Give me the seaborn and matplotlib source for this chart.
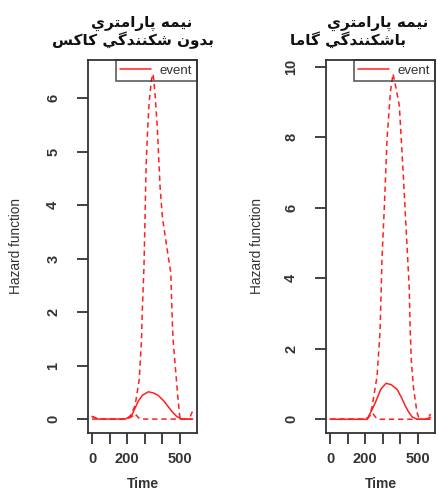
import matplotlib
matplotlib.use('Agg')
import matplotlib.pyplot as plt
import seaborn as sns


# hazard estimates (time, value)
left_time = [0, 35, 100, 190, 227, 265, 290, 322, 350, 379, 410, 436, 460, 484, 512, 575]
left_hazard = [0.05, 0, 0, 0, 0.07, 0.34, 0.45, 0.51, 0.49, 0.44, 0.34, 0.23, 0.13, 0.05, 0, 0]

left_up_time = [0, 35, 100, 200, 217, 246, 270, 283, 287, 297, 309, 316, 326, 340, 349,
                360, 373, 389, 402, 427, 450, 459, 463, 474, 490, 503, 555, 575]
left_up = [0.05, 0, 0, 0, 0.05, 0.25, 0.74, 1.5, 2.0, 2.85, 4.71, 5.27, 5.9, 6.35, 6.45,
           6.09, 5.46, 4.34, 3.78, 3.22, 2.74, 1.81, 1.5, 1.06, 0.43, 0, 0, 0.15]

left_low_time = [0, 200, 230, 245, 262, 275, 500, 575]
left_low = [0, 0, 0.05, 0.1, 0.04, 0, 0, 0]

right_time = [0, 190, 213, 221, 259, 290, 320, 350, 383, 410, 430, 450, 469, 497, 540, 575]
right_hazard = [0, 0, 0, 0.08, 0.47, 0.85, 1.02, 0.98, 0.85, 0.6, 0.38, 0.2, 0.07, 0, 0, 0.05]

right_up_time = [0, 200, 221, 240, 269, 286, 297, 310, 326, 345, 360, 377, 396, 406, 421,
                 453, 458, 465, 478, 497, 510, 555, 575]
right_up = [0, 0, 0.05, 0.34, 1.23, 2.5, 4.55, 5.97, 7.95, 9.28, 9.8, 9.4, 8.9, 8.05, 6.73,
            3.69, 2.56, 1.62, 0.85, 0.2, 0, 0, 0.15]

right_low_time = [0, 200, 225, 242, 262, 275, 500, 575]
right_low = [0, 0, 0.08, 0.18, 0.05, 0, 0, 0]

left_title = ['نیمه پارامتري', 'بدون شکنندگي کاکس']
right_title = ['نیمه پارامتري', 'باشکنندگي گاما']
left_yticks = [0, 1, 2, 3, 4, 5, 6]
right_yticks = [0, 2, 4, 6, 8, 10]
time_ticks = [0, 100, 200, 300, 400, 500]
time_labels = ['0', '', '200', '', '', '500']

# matplotlib has no arabic shaping, so pick the presentation forms by hand
FORMS = {
    'ا': ('\uFE8D', '\uFE8E', None, None),
    'ب': ('\uFE8F', '\uFE90', '\uFE91', '\uFE92'),
    'پ': ('\uFB56', '\uFB57', '\uFB58', '\uFB59'),
    'ت': ('\uFE95', '\uFE96', '\uFE97', '\uFE98'),
    'د': ('\uFEA9', '\uFEAA', None, None),
    'ر': ('\uFEAD', '\uFEAE', None, None),
    'س': ('\uFEB1', '\uFEB2', '\uFEB3', '\uFEB4'),
    'ش': ('\uFEB5', '\uFEB6', '\uFEB7', '\uFEB8'),
    'ک': ('\uFB8E', '\uFB8F', '\uFB90', '\uFB91'),
    'گ': ('\uFB92', '\uFB93', '\uFB94', '\uFB95'),
    'م': ('\uFEE1', '\uFEE2', '\uFEE3', '\uFEE4'),
    'ن': ('\uFEE5', '\uFEE6', '\uFEE7', '\uFEE8'),
    'ه': ('\uFEE9', '\uFEEA', '\uFEEB', '\uFEEC'),
    'و': ('\uFEED', '\uFEEE', None, None),
    'ي': ('\uFEF1', '\uFEF2', '\uFEF3', '\uFEF4'),
    'ی': ('\uFBFC', '\uFBFD', '\uFBFE', '\uFBFF'),
}


def shape(text):
    out = []
    for i, ch in enumerate(text):
        if ch not in FORMS:
            out.append(ch)
            continue
        prev = text[i - 1] if i > 0 else ''
        nxt = text[i + 1] if i + 1 < len(text) else ''
        iso, fin, ini, med = FORMS[ch]
        join_prev = prev in FORMS and FORMS[prev][2] is not None
        join_next = ini is not None and nxt in FORMS
        if join_prev and join_next:
            out.append(med)
        elif join_prev:
            out.append(fin)
        elif join_next:
            out.append(ini)
        else:
            out.append(iso)
    return ''.join(reversed(out))


sns.set_theme(style='ticks')
plt.rcParams['font.family'] = ['Liberation Sans', 'DejaVu Sans']

RED = '#ff2020'
GREY = '#333333'

fig = plt.figure(figsize=(4.38, 4.93), dpi=100)
ax1 = fig.add_axes([88 / 438, 60 / 493, 109 / 438, 373 / 493])
ax2 = fig.add_axes([326 / 438, 60 / 493, 109 / 438, 373 / 493])

panels = [
    (ax1, left_time, left_hazard, left_up_time, left_up, left_low_time, left_low,
     left_yticks, (-0.26, 6.71), -0.656),
    (ax2, right_time, right_hazard, right_up_time, right_up, right_low_time, right_low,
     right_yticks, (-0.39, 10.19), -0.633),
]

for ax, t, h, tu, up, tl, low, yt, ylim, ylab_x in panels:
    sns.lineplot(x=t, y=h, ax=ax, color=RED, lw=1.1, label='event')
    sns.lineplot(x=tu, y=up, ax=ax, color=RED, lw=1.1, linestyle=(0, (3.5, 2.5)))
    sns.lineplot(x=tl, y=low, ax=ax, color=RED, lw=1.1, linestyle=(0, (3.5, 2.5)))
    ax.set_xlim(-23, 600)
    ax.set_ylim(*ylim)
    ax.set_xticks(time_ticks)
    ax.set_xticklabels(time_labels)
    ax.set_yticks(yt)
    ax.set_yticklabels([str(v) for v in yt])
    for s in ax.spines.values():
        s.set_visible(True)
        s.set_color(GREY)
        s.set_linewidth(1.3)
    ax.tick_params(axis='both', direction='out', length=8, width=1.3, color=GREY,
                   labelcolor=GREY, labelsize=10.5)
    ax.tick_params(axis='x', pad=6)
    ax.tick_params(axis='y', pad=12, labelrotation=90)
    for lab in ax.get_yticklabels():
        lab.set_va('center')
        lab.set_fontweight('bold')
    for lab in ax.get_xticklabels():
        lab.set_fontweight('bold')
    ax.set_xlabel('Time', fontsize=10, fontweight='bold', color=GREY, va='center')
    ax.xaxis.set_label_coords(0.5, -0.138)
    ax.set_ylabel('Hazard function', fontsize=9.8, color=GREY, va='center')
    ax.yaxis.set_label_coords(ylab_x, 0.5)
    handles, labels = ax.get_legend_handles_labels()
    leg = ax.legend(handles[:1], labels[:1], loc='upper right', borderaxespad=0,
                    fancybox=False, fontsize=9.5, borderpad=0.35, handlelength=2.3,
                    handletextpad=0.7, labelcolor=GREY)
    leg.get_frame().set_facecolor('none')
    leg.get_frame().set_edgecolor(GREY)
    leg.get_frame().set_linewidth(1.2)

title_kw = dict(fontsize=11, fontweight='bold', family=['DejaVu Sans'], color='#111111',
                va='center')
fig.text(142 / 438, 1 - 23 / 493, shape(left_title[0]), ha='center', **title_kw)
fig.text(133 / 438, 1 - 40 / 493, shape(left_title[1]), ha='center', **title_kw)
fig.text(378 / 438, 1 - 23 / 493, shape(right_title[0]), ha='center', **title_kw)
fig.text(290 / 438, 1 - 40 / 493, shape(right_title[1]), ha='left', **title_kw)

fig.savefig('out.png', dpi=100)
